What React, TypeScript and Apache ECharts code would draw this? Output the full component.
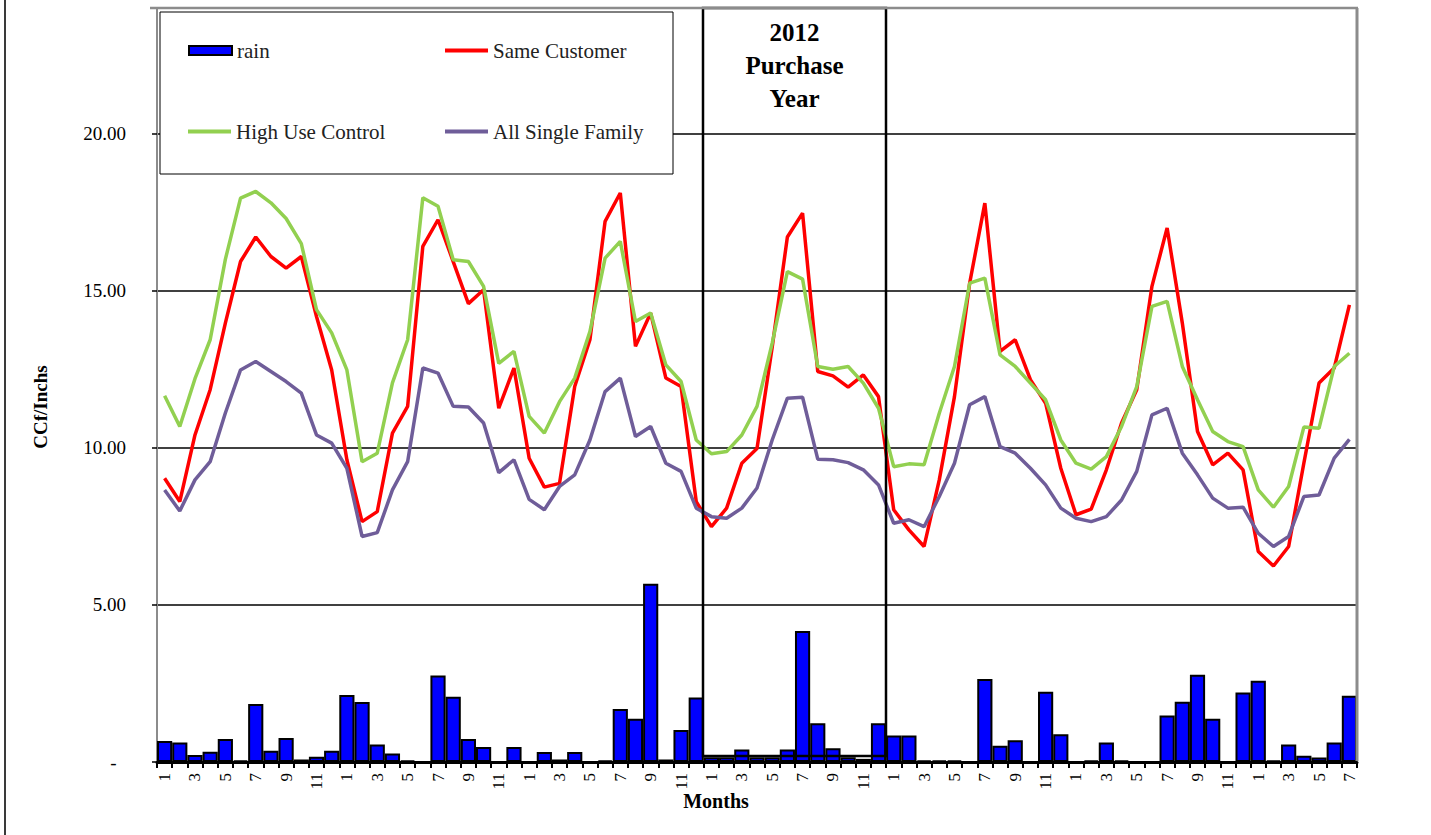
import React, { useEffect, useRef } from "react";
import * as echarts from "echarts";

const categories = [
  "1","2","3","4","5","6","7","8","9","10","11","12",
  "1","2","3","4","5","6","7","8","9","10","11","12",
  "1","2","3","4","5","6","7","8","9","10","11","12",
  "1","2","3","4","5","6","7","8","9","10","11","12",
  "1","2","3","4","5","6","7","8","9","10","11","12",
  "1","2","3","4","5","6","7","8","9","10","11","12",
  "1","2","3","4","5","6","7",
];

const rain = [
  0.67, 0.62, 0.22, 0.33, 0.73, 0.05, 1.85, 0.36, 0.76, 0.08, 0.17, 0.36,
  2.13, 1.91, 0.56, 0.27, 0.05, 0, 2.75, 2.08, 0.73, 0.48, 0, 0.48,
  0, 0.32, 0.08, 0.32, 0, 0.05, 1.69, 1.38, 5.67, 0.08, 1.02, 2.05,
  0.15, 0.15, 0.4, 0.15, 0.15, 0.4, 4.17, 1.23, 0.44, 0.15, 0.1, 1.23,
  0.84, 0.84, 0.05, 0.05, 0.05, 0, 2.64, 0.52, 0.69, 0, 2.24, 0.88,
  0, 0.05, 0.62, 0.05, 0, 0, 1.48, 1.92, 2.78, 1.38, 0, 2.21,
  2.59, 0.05, 0.56, 0.2, 0.14, 0.62, 2.11,
];

const sameCustomer = [
  9.03, 8.29, 10.41, 11.85, 13.97, 15.93, 16.71, 16.09, 15.72, 16.09, 14.18, 12.48,
  9.62, 7.65, 7.97, 10.47, 11.32, 16.41, 17.26, 15.93, 14.59, 15.03, 11.26, 12.54,
  9.67, 8.75, 8.87, 11.95, 13.44, 17.21, 18.11, 13.23, 14.29, 12.22, 11.95, 8.29,
  7.49, 8.08, 9.51, 9.98, 13.2, 16.71, 17.47, 12.43, 12.29, 11.93, 12.32, 11.63,
  8.03, 7.39, 6.86, 8.98, 11.63, 15.24, 17.79, 13.07, 13.44, 12.17, 11.42, 9.35,
  7.87, 8.05, 9.3, 10.79, 11.85, 15.14, 17.0, 13.97, 10.52, 9.46, 9.83, 9.3,
  6.7, 6.24, 6.86, 9.51, 12.06, 12.54, 14.55,
];

const highUseControl = [
  11.66, 10.68, 12.2, 13.44, 16.0, 17.95, 18.16, 17.8, 17.3, 16.5, 14.4, 13.66,
  12.48, 9.56, 9.83, 12.07, 13.44, 17.96, 17.69, 15.99, 15.93, 15.14, 12.69, 13.07,
  11.0, 10.47, 11.47, 12.22, 13.7, 16.04, 16.57, 14.02, 14.29, 12.64, 12.11, 10.25,
  9.81, 9.88, 10.41, 11.32, 13.33, 15.61, 15.37, 12.59, 12.5, 12.59, 12.06, 11.26,
  9.4, 9.49, 9.46, 11.1, 12.59, 15.24, 15.4, 12.96, 12.59, 12.06, 11.53, 10.25,
  9.51, 9.32, 9.72, 10.68, 11.95, 14.5, 14.66, 12.59, 11.53, 10.52, 10.2, 10.04,
  8.66, 8.11, 8.77, 10.66, 10.62, 12.59, 13.01,
];

const allSingleFamily = [
  8.66, 7.99, 8.98, 9.56, 11.11, 12.48, 12.75, 12.43, 12.11, 11.74, 10.41, 10.15,
  9.35, 7.18, 7.3, 8.66, 9.56, 12.54, 12.38, 11.32, 11.3, 10.79, 9.21, 9.62,
  8.36, 8.03, 8.77, 9.14, 10.25, 11.79, 12.22, 10.36, 10.68, 9.51, 9.25, 8.08,
  7.81, 7.76, 8.08, 8.72, 10.25, 11.58, 11.61, 9.64, 9.62, 9.53, 9.3, 8.82,
  7.6, 7.71, 7.49, 8.45, 9.51, 11.37, 11.63, 10.04, 9.83, 9.35, 8.82, 8.08,
  7.76, 7.65, 7.81, 8.34, 9.25, 11.05, 11.26, 9.83, 9.14, 8.4, 8.08, 8.11,
  7.28, 6.86, 7.18, 8.45, 8.5, 9.67, 10.27,
];

const seriesNames = ["rain", "Same Customer", "High Use Control", "All Single Family"];
const seriesColors = ["#0000ff", "#ff0000", "#92d050", "#6f5d99"];

const SERIF = '"Liberation Serif", "Times New Roman", serif';

export default function App() {
  const ref = useRef<HTMLDivElement>(null);

  useEffect(() => {
    if (!ref.current) return;
    const chart = echarts.init(ref.current, null, { renderer: "svg" });

    const legendText = { fontFamily: SERIF, fontSize: 21, color: "#222" };
    const lineSeries = (name: string, data: number[], color: string) => ({
      name,
      type: "line",
      data,
      showSymbol: false,
      symbol: "none",
      lineStyle: { color, width: 3.5 },
      itemStyle: { color },
      z: 3,
    });

    chart.setOption({
      animation: false,
      backgroundColor: "#ffffff",
      grid: { left: 157, top: 8, width: 1200, height: 754, containLabel: false },
      legend: [
        { data: [seriesNames[0]], left: 188, top: 40, padding: 0, itemWidth: 43, itemHeight: 9, icon: "rect", selectedMode: false, textStyle: legendText, z: 20 },
        { data: [seriesNames[1]], left: 445, top: 40, padding: 0, itemWidth: 43, itemHeight: 4, icon: "rect", selectedMode: false, textStyle: legendText, z: 20 },
        { data: [seriesNames[2]], left: 188, top: 121, padding: 0, itemWidth: 43, itemHeight: 4, icon: "rect", selectedMode: false, textStyle: legendText, z: 20 },
        { data: [seriesNames[3]], left: 445, top: 121, padding: 0, itemWidth: 43, itemHeight: 4, icon: "rect", selectedMode: false, textStyle: legendText, z: 20 },
      ],
      xAxis: {
        type: "category",
        data: categories,
        boundaryGap: true,
        axisLine: { show: true, lineStyle: { color: "#000", width: 3 } },
        axisTick: { show: true, interval: 0, length: 6, lineStyle: { color: "#000", width: 2 } },
        axisLabel: {
          interval: 1,
          rotate: 90,
          margin: 11,
          fontSize: 17,
          fontFamily: SERIF,
          color: "#000",
        },
        splitLine: { show: false },
      },
      yAxis: {
        type: "value",
        min: 0,
        max: 24,
        interval: 5,
        axisLine: { show: true, lineStyle: { color: "#8c8c8c", width: 2 } },
        axisTick: { show: true, length: 5, lineStyle: { color: "#000", width: 1.5 } },
        axisLabel: {
          margin: 31,
          fontSize: 19,
          fontFamily: SERIF,
          color: "#000",
          formatter: (v: number) => (v === 0 ? "-  " : v > 20 ? "" : v.toFixed(2)),
        },
        splitLine: { show: true, lineStyle: { color: "#000", width: 1.5 } },
      },
      series: [
        {
          name: seriesNames[0],
          type: "bar",
          data: rain,
          barCategoryGap: "0%",
          itemStyle: { color: seriesColors[0], borderColor: "#000", borderWidth: 2 },
          z: 2,
        },
        lineSeries(seriesNames[1], sameCustomer, seriesColors[1]),
        lineSeries(seriesNames[2], highUseControl, seriesColors[2]),
        lineSeries(seriesNames[3], allSingleFamily, seriesColors[3]),
      ],
      graphic: [
        { type: "line", z: 30, shape: { x1: 5, y1: 0, x2: 5, y2: 835 }, style: { stroke: "#3a3a3a", lineWidth: 2 } },
        { type: "line", z: 30, shape: { x1: 150, y1: 8, x2: 1358, y2: 8 }, style: { stroke: "#8c8c8c", lineWidth: 2.5 } },
        { type: "line", z: 30, shape: { x1: 1357, y1: 8, x2: 1357, y2: 761 }, style: { stroke: "#8c8c8c", lineWidth: 3 } },
        { type: "rect", z: 15, shape: { x: 160, y: 12, width: 513, height: 162 }, style: { fill: "#ffffff", stroke: "#000", lineWidth: 1 } },
        { type: "rect", z: 25, shape: { x: 703, y: 8, width: 183, height: 748 }, style: { fill: "rgba(0,0,0,0)", stroke: "#000", lineWidth: 2.5 } },
        {
          type: "text",
          z: 26,
          x: 794.5,
          y: 16,
          style: {
            text: "2012\nPurchase\nYear",
            align: "center",
            textAlign: "center",
            verticalAlign: "top",
            textVerticalAlign: "top",
            lineHeight: 33,
            fontSize: 25,
            fontWeight: "bold",
            fontFamily: SERIF,
            fill: "#000",
          },
        },
        {
          type: "text",
          z: 26,
          x: 716,
          y: 801,
          style: {
            text: "Months",
            align: "center",
            textAlign: "center",
            verticalAlign: "middle",
            textVerticalAlign: "middle",
            fontSize: 20,
            fontWeight: "bold",
            fontFamily: SERIF,
            fill: "#000",
          },
        },
        {
          type: "text",
          z: 26,
          x: 40,
          y: 407,
          rotation: Math.PI / 2,
          style: {
            text: "CCf/Inchs",
            align: "center",
            textAlign: "center",
            verticalAlign: "middle",
            textVerticalAlign: "middle",
            fontSize: 19,
            fontWeight: "bold",
            fontFamily: SERIF,
            fill: "#000",
          },
        },
      ],
    });

    return () => chart.dispose();
  }, []);

  return (
    <div
      ref={ref}
      style={{ position: "absolute", left: 0, top: 0, width: 1431, height: 835, background: "#fff" }}
    />
  );
}
